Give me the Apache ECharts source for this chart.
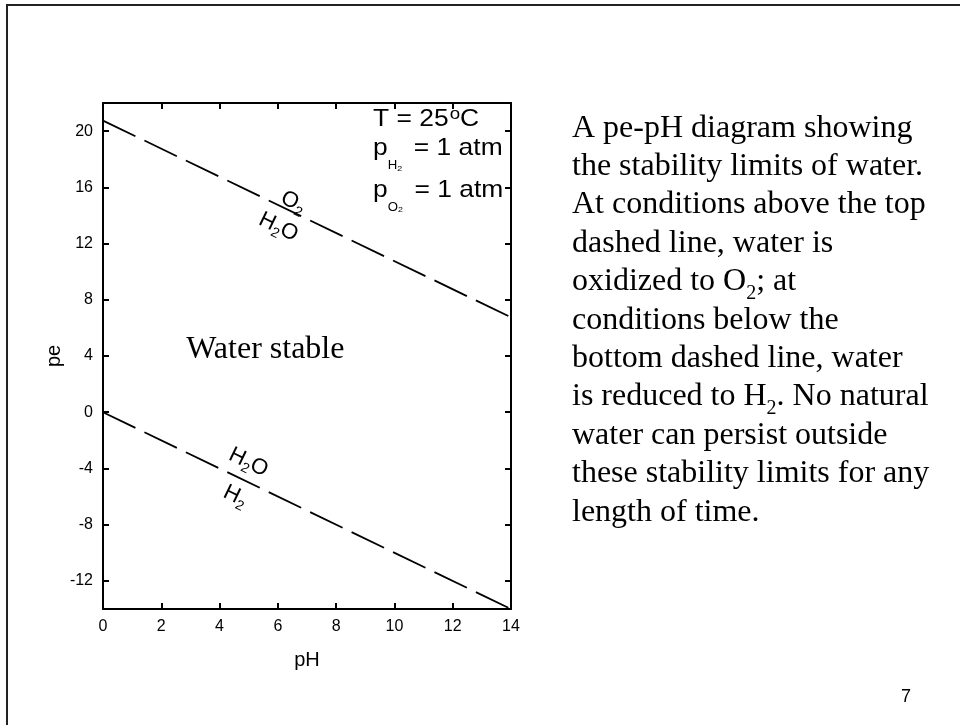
<!DOCTYPE html>
<html>
<head>
<meta charset="utf-8">
<script src="https://cdn.jsdelivr.net/npm/echarts@6/dist/echarts.min.js"></script>
<style>
  html, body { margin: 0; padding: 0; background: #fff; }
  #main { width: 960px; height: 725px; }
</style>
</head>
<body>
<div id="main"></div>
<script>
// pe-pH stability limits of water
var pH = [0, 14];
var peO2 = [20.75, 6.75];   // O2 / H2O boundary
var peH2 = [0, -14];        // H2O / H2 boundary
var yTicks = [-12, -8, -4, 0, 4, 8, 12, 16, 20];

var SANS = 'Liberation Sans';
var SERIF = 'Liberation Serif';

var chart = echarts.init(document.getElementById('main'));

function frameAxis(extra) {
    return Object.assign({
        axisLine: { show: true, onZero: false, lineStyle: { color: '#000', width: 2 } },
        axisTick: { inside: true, length: 6, lineStyle: { color: '#000', width: 2 } },
        splitLine: { show: false },
        axisLabel: { show: false }
    }, extra);
}

var labelStyle = { color: '#000', fontFamily: SANS, fontSize: 16, margin: 10 };

option = {
    animation: false,
    backgroundColor: '#fff',
    grid: { left: 103, top: 103, width: 408, height: 506 },
    xAxis: [
        frameAxis({
            type: 'value', min: 0, max: 14, interval: 2, position: 'bottom',
            axisLabel: labelStyle,
            name: 'pH', nameLocation: 'middle', nameGap: 41,
            nameTextStyle: { color: '#000', fontFamily: SANS, fontSize: 20 }
        }),
        frameAxis({ type: 'value', min: 0, max: 14, interval: 2, position: 'top' })
    ],
    yAxis: [
        frameAxis({
            type: 'value', min: -14, max: 22, position: 'left',
            axisLabel: Object.assign({ customValues: yTicks }, labelStyle),
            axisTick: { inside: true, length: 6, customValues: yTicks, lineStyle: { color: '#000', width: 2 } },
            name: 'pe', nameLocation: 'middle', nameGap: 39,
            nameTextStyle: { color: '#000', fontFamily: SANS, fontSize: 20 }
        }),
        frameAxis({
            type: 'value', min: -14, max: 22, position: 'right',
            axisTick: { inside: true, length: 6, customValues: yTicks, lineStyle: { color: '#000', width: 2 } }
        })
    ],
    series: [
        {
            type: 'line', showSymbol: false, silent: true,
            data: pH.map(function (x, i) { return [x, peO2[i]]; }),
            lineStyle: { color: '#000', width: 1.8, type: [36, 10] }
        },
        {
            type: 'line', showSymbol: false, silent: true,
            data: pH.map(function (x, i) { return [x, peH2[i]]; }),
            lineStyle: { color: '#000', width: 1.8, type: [36, 10] }
        }
    ]
};
chart.setOption(option);

// annotation helpers
function px(x, y) { return chart.convertToPixel({ gridIndex: 0 }, [x, y]); }
var a = px(pH[0], peO2[0]), b = px(pH[1], peO2[1]);
var ang = -Math.atan2(b[1] - a[1], b[0] - a[0]);

function sub(size, shift, lh, right) {
    return { fontSize: size, fontFamily: SANS, fill: '#000', lineHeight: lh, padding: [shift * 2, right || 0, 0, 0] };
}

var lineRich = {
    m: { fontSize: 22, fontFamily: SANS, lineHeight: 26 },
    s: sub(14, 7, 26)
};

function lineLabel(x, y, text) {
    var p = px(x, y);
    return {
        type: 'text', x: p[0], y: p[1], rotation: ang, silent: true,
        style: { text: text, rich: lineRich, fill: '#000', align: 'center', verticalAlign: 'middle' }
    };
}

var condRich = {
    m: { fontSize: 24, fontFamily: SANS, lineHeight: 30 },
    s1: sub(12, 17.5, 30),
    s2: sub(8, 20, 30, 4),
    sup: { fontSize: 17, fontFamily: SANS, lineHeight: 30, padding: [0, 0, 10, 1] }
};

function condText(y, text) {
    return {
        type: 'text', x: 373, y: y, scaleX: 1.1, silent: true,
        style: { text: text, rich: condRich, fill: '#000', align: 'left', verticalAlign: 'middle' }
    };
}

var para = [
    '{m|A pe-pH diagram showing}',
    '{m|the stability limits of water.}',
    '{m|At conditions above the top}',
    '{m|dashed line, water is}',
    '{m|oxidized to O}{s|2}{m|; at}',
    '{m|conditions below the}',
    '{m|bottom dashed line, water}',
    '{m|is reduced to H}{s|2}{m|. No natural}',
    '{m|water can persist outside}',
    '{m|these stability limits for any}',
    '{m|length of time.}'
].join('\n');

var ws = px(5.57, 4.45);

chart.setOption({
    graphic: [
        {
            type: 'rect', silent: true,
            shape: { x: 7, y: 5, width: 1000, height: 1000 },
            style: { fill: 'none', stroke: '#222', lineWidth: 2 }
        },
        lineLabel(6.53, 14.94, '{m|O}{s|2}'),
        lineLabel(6.02, 13.17, '{m|H}{s|2}{m|O}'),
        lineLabel(4.99, -3.57, '{m|H}{s|2}{m|O}'),
        lineLabel(4.54, -5.98, '{m|H}{s|2}'),
        {
            type: 'text', x: ws[0], y: ws[1], silent: true,
            style: { text: 'Water stable', fill: '#000', font: '32px "Liberation Serif"', align: 'center', verticalAlign: 'middle' }
        },
        condText(119, '{m|T = 25}{sup|o}{m|C}'),
        condText(148.5, '{m|p}{s1|H}{s2|2}{m| = 1 atm}'),
        condText(190, '{m|p}{s1|O}{s2|2}{m| = 1 atm}'),
        {
            type: 'text', x: 572, y: 109, silent: true,
            style: {
                text: para, fill: '#000', align: 'left', verticalAlign: 'top',
                rich: {
                    m: { fontSize: 32, fontFamily: SERIF, lineHeight: 38.4 },
                    s: { fontSize: 20, fontFamily: SERIF, lineHeight: 38.4, padding: [24, 0, 0, 0] }
                }
            }
        },
        {
            type: 'text', x: 906, y: 697, silent: true,
            style: { text: '7', fill: '#000', font: '18px "Liberation Sans"', align: 'center', verticalAlign: 'middle' }
        }
    ]
});
</script>
</body>
</html>
